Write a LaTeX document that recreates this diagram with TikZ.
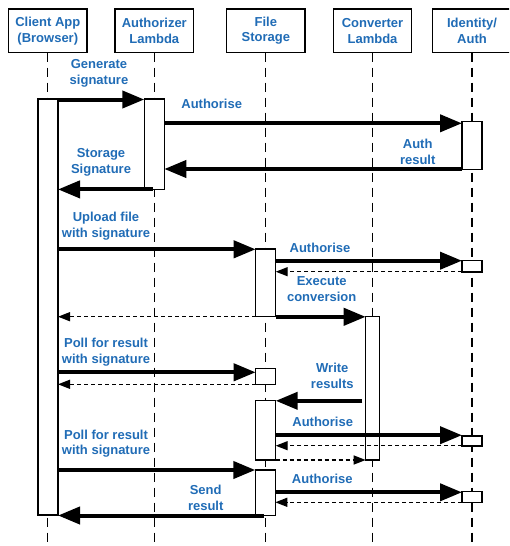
\documentclass[tikz,border=0pt]{standalone}
\usepackage{fontspec}
\setmainfont{Liberation Sans}
\usetikzlibrary{arrows.meta}
\definecolor{lblue}{RGB}{32,108,182}
\tikzset{
  txt/.style={text=lblue, font=\bfseries\fontsize{13}{15.7}\selectfont, align=center, inner sep=0pt},
  head/.style={draw=black, line width=1.4pt, fill=white, minimum height=43.7pt, minimum width=78.5pt, inner sep=0pt, outer sep=0pt, text=lblue, font=\bfseries\fontsize{13}{15.7}\selectfont, align=center},
  bar/.style={draw=black, line width=1.4pt, fill=white, inner sep=0pt, outer sep=0pt, anchor=north west, minimum width=20pt},
  life/.style={line width=1.3pt, dash pattern=on 9pt off 6pt},
  big/.style={line width=4pt, -{Triangle[length=22pt,width=17pt]}},
  ret/.style={line width=1.3pt, dash pattern=on 4pt off 3pt, -{Triangle[length=12pt,width=9pt]}}
}
\begin{document}
\begin{tikzpicture}[x=1pt,y=-1pt]
\useasboundingbox (0,0) rectangle (509,546);
\clip (0,0) rectangle (509,546);
% headers
\node[head] (h1) at (47.8,30.8) {Client App\\(Browser)};
\node[head] (h2) at (154.3,30.8) {Authorizer\\Lambda};
\node[head] (h3) at (265.8,30.8) {File\\Storage};
\node[head] (h4) at (372.5,30.8) {Converter\\Lambda};
\node[head, anchor=west, minimum width=90pt] (h5) at (432.7,30.8) {};
\node[txt] (h5t) at (472,30.8) {Identity/\\Auth};
% lifelines
\foreach \h in {h1,h2,h3,h4}{
  \draw[life] (\h.south) -- (\h.south |- 0,546);
}
\draw[life] (h5t |- h5.south) -- (h5t |- 0,546);
% activation bars
\node[bar, minimum height=416pt] (cb) at (38,99) {};
\node[bar, minimum height=90.3pt] (ab) at (144.3,99) {};
\node[bar, minimum height=47.6pt] (ib1) at (462,121.7) {};
\node[bar, minimum height=67.7pt] (fb1) at (255.7,249) {};
\node[bar, minimum height=11.3pt] (ib2) at (462,260.7) {};
\node[bar, minimum height=143.3pt, minimum width=14pt] (vb) at (365.7,316.7) {};
\node[bar, minimum height=16pt] (fb2) at (255.7,368.3) {};
\node[bar, minimum height=59.3pt] (fb3) at (255.7,400.7) {};
\node[bar, minimum height=10pt] (ib3) at (462,436) {};
\node[bar, minimum height=45.3pt] (fb4) at (255.3,470) {};
\node[bar, minimum height=10.6pt] (ib4) at (462,491.7) {};
% messages
\coordinate (s1) at (152.7,189.4);
\coordinate (s2) at (264.3,515.5);
\coordinate (s3) at (362.3,400.8);
\draw[big] (cb.east |- 0,99.5) -- (ab.west |- 0,99.5);
\draw[big] (ab.east |- 0,123.3) -- (ib1.west |- 0,123.3);
\draw[big] (ib1.west |- 0,169) -- (ab.east |- 0,169);
\draw[big] (s1) -- (cb.east |- s1);
\draw[big] (cb.east |- 0,249.3) -- (fb1.west |- 0,249.3);
\draw[big] (fb1.east |- 0,260.7) -- (ib2.west |- 0,260.7);
\draw[ret] (ib2.west |- 0,271.7) -- (fb1.east |- 0,271.7);
\draw[big] (fb1.east |- 0,316.8) -- (vb.west |- 0,316.8);
\draw[ret] (fb1.west |- 0,316.7) -- (cb.east |- 0,316.7);
\draw[big] (cb.east |- 0,372.3) -- (fb2.west |- 0,372.3);
\draw[ret] (fb2.west |- 0,384.3) -- (cb.east |- 0,384.3);
\draw[big] (s3) -- (fb3.east |- s3);
\draw[big] (fb3.east |- 0,435.2) -- (ib3.west |- 0,435.2);
\draw[ret] (ib3.west |- 0,445.7) -- (fb3.east |- 0,445.7);
\draw[ret] (fb3.east |- 0,460) -- (vb.west |- 0,460);
\draw[big] (cb.east |- 0,470) -- (fb4.west |- 0,470);
\draw[big] (fb4.east |- 0,492.3) -- (ib4.west |- 0,492.3);
\draw[ret] (ib4.west |- 0,502.3) -- (fb4.east |- 0,502.3);
\draw[big] (s2) -- (cb.east |- s2);
% labels
\node[txt] (t1) at (99,73) {Generate\\signature};
\node[txt] (t2) at (211.7,103.7) {Authorise};
\node[txt] (t3) at (417.7,152) {Auth\\result};
\node[txt] (t4) at (101,162.5) {Storage\\Signature};
\node[txt] (t5) at (106,226) {Upload file\\with signature};
\node[txt] (t6) at (320,247.7) {Authorise};
\node[txt] (t7) at (321.7,289) {Execute\\conversion};
\node[txt] (t8) at (106,352) {Poll for result\\with signature};
\node[txt] (t9) at (332.3,375.5) {Write\\results};
\node[txt] (t10) at (322.7,422.3) {Authorise};
\node[txt] (t11) at (106,443.7) {Poll for result\\with signature};
\node[txt] (t12) at (322.3,479.3) {Authorise};
\node[txt] (t13) at (205.7,498) {Send\\result};
\end{tikzpicture}
\end{document}
